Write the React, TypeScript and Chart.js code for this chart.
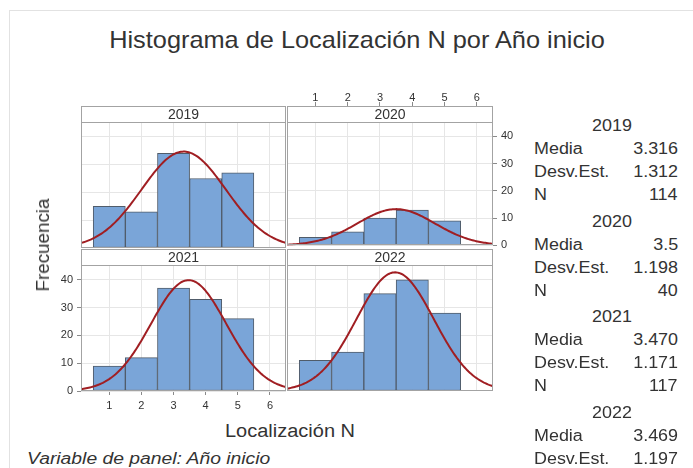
import React, { useEffect, useRef } from 'react';
import { Chart, registerables } from 'chart.js';

Chart.register(...registerables);

// ---------- data ----------
const PANEL_YEARS = ['2019', '2020', '2021', '2022'];
const BIN_CENTERS = [1, 2, 3, 4, 5];
const FREQ_2019 = [15, 13, 34, 25, 27];
const FREQ_2020 = [3, 5, 10, 13, 9];
const FREQ_2021 = [9, 12, 37, 33, 26];
const FREQ_2022 = [11, 14, 35, 40, 28];
const MEDIA = [3.316, 3.5, 3.47, 3.469];
const DESV_EST = [1.312, 1.198, 1.171, 1.197];
const N_COUNT = [114, 40, 117, 128];
const MEDIA_LABELS = ['3.316', '3.5', '3.470', '3.469'];
const DESV_LABELS = ['1.312', '1.198', '1.171', '1.197'];
const X_TICKS = [1, 2, 3, 4, 5, 6];
const Y_TICKS = [0, 10, 20, 30, 40];
const X_MIN = 0.12;
const X_MAX = 6.5;
const Y_MAX = 45.3;
const BIN_WIDTH = 1;

const FREQS = [FREQ_2019, FREQ_2020, FREQ_2021, FREQ_2022];

// ---------- style ----------
const FONT = '"Liberation Sans", Arial, Helvetica, sans-serif';
const TEXT = '#333333';
const GRID = '#e6e6e6';
const FRAME = '#a3a3a3';
const BAR_FILL = '#7aa5d8';
const BAR_EDGE = '#505c6a';
const CURVE = '#a01e22';
const STRIP = 16;

type Panel = {
  left: number; top: number; w: number; h: number;
  padTop: number; padBottom: number;
  xPos: 'top' | 'bottom' | null; yPos: 'left' | 'right' | null;
  xSize: number; ySize: number;
};

const LAYOUT: Panel[] = [
  { left: 81, top: 106, w: 205, h: 142, padTop: STRIP, padBottom: 0, xPos: null, yPos: null, xSize: 0, ySize: 0 },
  { left: 287, top: 70, w: 240, h: 186, padTop: 0, padBottom: 8, xPos: 'top', yPos: 'right', xSize: 52, ySize: 34 },
  { left: 41, top: 249, w: 245, h: 172, padTop: STRIP, padBottom: 0, xPos: 'bottom', yPos: 'left', xSize: 30, ySize: 40 },
  { left: 287, top: 249, w: 206, h: 142, padTop: STRIP, padBottom: 0, xPos: null, yPos: null, xSize: 0, ySize: 0 },
];

function normalCurve(i: number) {
  const m = MEDIA[i];
  const s = DESV_EST[i];
  const n = N_COUNT[i];
  const pts: { x: number; y: number }[] = [];
  const steps = 160;
  for (let k = 0; k <= steps; k++) {
    const x = X_MIN + ((X_MAX - X_MIN) * k) / steps;
    const z = (x - m) / s;
    pts.push({ x, y: (n * BIN_WIDTH * Math.exp(-0.5 * z * z)) / (s * Math.sqrt(2 * Math.PI)) });
  }
  return pts;
}

function framePlugin(label: string) {
  return {
    id: 'panelFrame',
    afterDraw(chart: any) {
      const { ctx, chartArea: a } = chart;
      const l = Math.round(a.left);
      const r = Math.round(a.right);
      const t = Math.round(a.top);
      const b = Math.round(a.bottom);
      ctx.save();
      ctx.fillStyle = '#ffffff';
      ctx.fillRect(l, t - STRIP, r - l, STRIP);
      ctx.strokeStyle = FRAME;
      ctx.lineWidth = 1;
      ctx.strokeRect(l + 0.5, t - STRIP + 0.5, r - l - 1, STRIP);
      ctx.strokeRect(l + 0.5, t + 0.5, r - l - 1, b - t - 1);
      ctx.fillStyle = TEXT;
      ctx.font = `14px ${FONT}`;
      ctx.textAlign = 'center';
      ctx.textBaseline = 'middle';
      ctx.fillText(label, (l + r) / 2, t - STRIP / 2 + 1);
      ctx.restore();
    },
  };
}

function buildChart(canvas: HTMLCanvasElement, i: number) {
  const p = LAYOUT[i];
  const freq = FREQS[i];
  const tickFont = { family: FONT, size: 11 };
  return new Chart(canvas, {
    type: 'bar',
    data: {
      datasets: [
        {
          type: 'line',
          data: normalCurve(i),
          borderColor: CURVE,
          borderWidth: 2,
          pointRadius: 0,
          fill: false,
          tension: 0,
          order: 0,
        } as any,
        {
          type: 'bar',
          data: BIN_CENTERS.map((x, k) => ({ x, y: freq[k] })),
          backgroundColor: BAR_FILL,
          borderColor: BAR_EDGE,
          borderWidth: 1,
          borderSkipped: false,
          barPercentage: 1,
          categoryPercentage: 1,
          order: 1,
        } as any,
      ],
    },
    options: {
      responsive: false,
      animation: false,
      events: [],
      layout: { padding: { top: p.padTop, bottom: p.padBottom, left: 0, right: 0 }, autoPadding: false } as any,
      plugins: { legend: { display: false }, tooltip: { enabled: false }, title: { display: false } },
      scales: {
        x: {
          type: 'linear',
          position: p.xPos || 'bottom',
          min: X_MIN,
          max: X_MAX,
          offset: false,
          afterBuildTicks: (s: any) => { s.ticks = X_TICKS.map((v) => ({ value: v })); },
          afterFit: (s: any) => { s.height = p.xSize; },
          grid: {
            offset: false,
            color: GRID,
            drawTicks: !!p.xPos,
            tickLength: p.xPos === 'top' ? STRIP + 4 : 4,
            tickColor: '#8a8a8a',
          },
          border: { display: false },
          ticks: {
            display: !!p.xPos,
            font: tickFont,
            color: TEXT,
            padding: p.xPos === 'top' ? -3 : 4,
            maxRotation: 0,
            autoSkip: false,
          },
        },
        y: {
          type: 'linear',
          position: p.yPos || 'left',
          min: 0,
          max: Y_MAX,
          afterBuildTicks: (s: any) => { s.ticks = Y_TICKS.map((v) => ({ value: v })); },
          afterFit: (s: any) => { s.width = p.ySize; },
          grid: { color: GRID, drawTicks: !!p.yPos, tickLength: 4, tickColor: '#8a8a8a' },
          border: { display: false },
          ticks: { display: !!p.yPos, font: tickFont, color: TEXT, padding: 4 },
        },
      } as any,
    },
    plugins: [framePlugin(PANEL_YEARS[i])],
  } as any);
}

const measureCtx = (() => {
  if (typeof document === 'undefined') return null;
  return document.createElement('canvas').getContext('2d');
})();

function measure(text: string, font: string): number {
  if (!measureCtx) return 1;
  measureCtx.font = font;
  return measureCtx.measureText(text).width || 1;
}

type LabelProps = {
  text: string; x: number; y: number; size: number;
  align?: 'left' | 'right' | 'center'; italic?: boolean; sx?: number; width?: number; rotate?: boolean;
};

function Label({ text, x, y, size, align = 'left', italic = false, sx, width, rotate = false }: LabelProps) {
  const font = `${italic ? 'italic ' : ''}${size}px ${FONT}`;
  const scale = width ? width / measure(text, font) : sx || 1;
  const style: React.CSSProperties = {
    position: 'absolute',
    top: y - size / 2,
    fontFamily: FONT,
    fontSize: size,
    lineHeight: `${size}px`,
    fontStyle: italic ? 'italic' : 'normal',
    color: TEXT,
    whiteSpace: 'nowrap',
  };
  if (rotate) {
    style.left = x;
    style.top = y;
    style.transform = `translate(-50%, -50%) rotate(-90deg) scaleX(${scale})`;
  } else if (align === 'left') {
    style.left = x;
    style.transformOrigin = 'left center';
    style.transform = `scaleX(${scale})`;
  } else if (align === 'right') {
    style.right = 693 - x;
    style.transformOrigin = 'right center';
    style.transform = `scaleX(${scale})`;
  } else {
    style.left = x;
    style.transform = `translateX(-50%) scaleX(${scale})`;
  }
  return <div style={style}>{text}</div>;
}

const STAT_SX = 1.12;

export default function App() {
  const r0 = useRef<HTMLCanvasElement>(null);
  const r1 = useRef<HTMLCanvasElement>(null);
  const r2 = useRef<HTMLCanvasElement>(null);
  const r3 = useRef<HTMLCanvasElement>(null);
  const refs = [r0, r1, r2, r3];

  useEffect(() => {
    const charts = refs.map((r, i) => (r.current ? buildChart(r.current, i) : null));
    return () => { charts.forEach((c) => c && c.destroy()); };
  }, []);

  const stats: React.ReactNode[] = [];
  PANEL_YEARS.forEach((yr, g) => {
    const y0 = 126 + 95.5 * g;
    const dy = 23.1;
    stats.push(<Label key={`y${g}`} text={yr} x={612} y={y0} size={16} align="center" sx={STAT_SX} />);
    stats.push(<Label key={`ml${g}`} text="Media" x={534} y={y0 + dy} size={16} sx={STAT_SX} />);
    stats.push(<Label key={`mv${g}`} text={MEDIA_LABELS[g]} x={678} y={y0 + dy} size={16} align="right" sx={STAT_SX} />);
    stats.push(<Label key={`dl${g}`} text="Desv.Est." x={534} y={y0 + 2 * dy} size={16} sx={STAT_SX} />);
    stats.push(<Label key={`dv${g}`} text={DESV_LABELS[g]} x={678} y={y0 + 2 * dy} size={16} align="right" sx={STAT_SX} />);
    stats.push(<Label key={`nl${g}`} text="N" x={534} y={y0 + 3 * dy} size={16} sx={STAT_SX} />);
    stats.push(<Label key={`nv${g}`} text={String(N_COUNT[g])} x={678} y={y0 + 3 * dy} size={16} align="right" sx={STAT_SX} />);
  });

  return (
    <div style={{ position: 'fixed', left: 0, top: 0, width: 693, height: 468, overflow: 'hidden', background: '#ffffff' }}>
      <div style={{ position: 'absolute', left: 9, top: 10, width: 720, height: 500, border: '1px solid #e2e2e2' }} />
      <Label text="Histograma de Localización N por Año inicio" x={357} y={40} size={24} align="center" width={497} />
      {LAYOUT.map((p, i) => (
        <canvas
          key={i}
          ref={refs[i]}
          width={p.w}
          height={p.h}
          style={{ position: 'absolute', left: p.left, top: p.top, width: p.w, height: p.h }}
        />
      ))}
      <Label text="Frecuencia" x={43} y={245} size={18} rotate width={93} />
      <Label text="Localización N" x={290} y={431} size={18} align="center" width={130} />
      <Label text="Variable de panel: Año inicio" x={27} y={459} size={16} italic width={244} />
      {stats}
    </div>
  );
}
